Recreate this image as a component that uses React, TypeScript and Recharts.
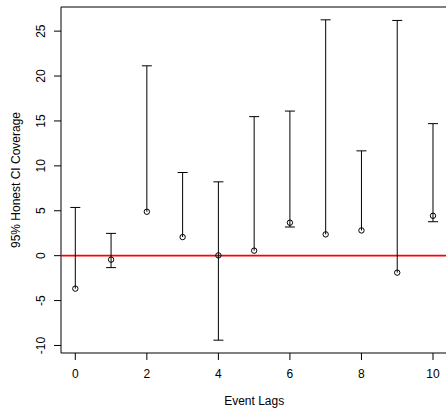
import React from 'react';
import {
  ComposedChart,
  XAxis,
  YAxis,
  Scatter,
  ErrorBar,
  ReferenceLine,
  ReferenceArea,
} from 'recharts';

const lags = [0, 1, 2, 3, 4, 5, 6, 7, 8, 9, 10];
const estimates = [-3.67, -0.44, 4.89, 2.07, 0.03, 0.56, 3.67, 2.37, 2.81, -1.89, 4.44];
const lowerBounds = [-3.67, -1.33, 4.89, 2.07, -9.41, 0.56, 3.19, 2.37, 2.81, -1.89, 3.78];
const upperBounds = [5.37, 2.48, 21.14, 9.26, 8.22, 15.48, 16.1, 26.26, 11.67, 26.19, 14.7];

const xTicks = [0, 2, 4, 6, 8, 10];
const yTicks = [-10, -5, 0, 5, 10, 15, 20, 25];

const FONT = '"Liberation Sans", Arial, Helvetica, sans-serif';

const rows = lags.map((lag, i) => ({
  lag,
  est: estimates[i],
  lower: lowerBounds[i],
  upper: upperBounds[i],
  err: [estimates[i] - lowerBounds[i], upperBounds[i] - estimates[i]],
}));

// R leaves out the cap when an arrow has zero length
const lowerCaps = rows.filter(r => r.lower < r.est);

// R-style axis padding: 4% on each side
const yLo = Math.min(...lowerBounds);
const yHi = Math.max(...upperBounds);
const yPad = (yHi - yLo) * 0.04;
const yDomain: [number, number] = [yLo - yPad, yHi + yPad];
const xPad = (lags[lags.length - 1] - lags[0]) * 0.04;
const xDomain: [number, number] = [lags[0] - xPad, lags[lags.length - 1] + xPad];

const OpenCircle = (props: any) => {
  const { cx, cy } = props;
  if (cx == null || cy == null) return null;
  return <circle cx={cx} cy={cy} r={2.7} fill="none" stroke="#000" strokeWidth={1} />;
};

const Cap = (props: any) => {
  const { cx, cy } = props;
  if (cx == null || cy == null) return null;
  return <line x1={cx - 5} x2={cx + 5} y1={cy} y2={cy} stroke="#000" strokeWidth={1} />;
};

const XTick = ({ x, payload }: any) => (
  <text x={x} y={374} textAnchor="middle" dominantBaseline="central" fontSize={12} fontFamily={FONT} fill="#000">
    {payload.value}
  </text>
);

const YTick = ({ y, payload }: any) => (
  <text
    x={41}
    y={y}
    textAnchor="middle"
    dominantBaseline="central"
    fontSize={12}
    fontFamily={FONT}
    fill="#000"
    transform={`rotate(-90, 41, ${y})`}
  >
    {payload.value}
  </text>
);

export default function App() {
  return (
    <div style={{ position: 'absolute', left: 0, top: 0, width: 446, height: 414, overflow: 'hidden', background: '#fff' }}>
      <ComposedChart width={450} height={414} data={rows} margin={{ top: 7, right: 2.7, bottom: 0, left: 0 }}>
        <XAxis
          dataKey="lag"
          type="number"
          domain={xDomain}
          allowDataOverflow
          ticks={xTicks}
          tick={<XTick />}
          tickSize={7}
          tickLine={{ stroke: '#000' }}
          axisLine={false}
          height={61}
          label={{
            content: ({ viewBox }: any) => (
              <text
                x={viewBox.x + viewBox.width / 2}
                y={401}
                textAnchor="middle"
                dominantBaseline="central"
                fontSize={12}
                fontFamily={FONT}
                fill="#000"
              >
                Event Lags
              </text>
            ),
          }}
        />
        <YAxis
          type="number"
          domain={yDomain}
          allowDataOverflow
          ticks={yTicks}
          tick={<YTick />}
          tickSize={7}
          tickLine={{ stroke: '#000' }}
          axisLine={false}
          width={61}
          label={{
            content: ({ viewBox }: any) => {
              const cy = viewBox.y + viewBox.height / 2;
              return (
                <text
                  x={16}
                  y={cy}
                  textAnchor="middle"
                  dominantBaseline="central"
                  fontSize={12}
                  fontFamily={FONT}
                  fill="#000"
                  transform={`rotate(-90, 16, ${cy})`}
                >
                  95% Honest CI Coverage
                </text>
              );
            },
          }}
        />
        <ReferenceArea
          x1={xDomain[0]}
          x2={xDomain[1]}
          y1={yDomain[0]}
          y2={yDomain[1]}
          fill="none"
          fillOpacity={0}
          stroke="#000"
          strokeWidth={1}
          ifOverflow="visible"
        />
        <ReferenceLine y={0} stroke="#ff0000" strokeWidth={1.8} />
        <Scatter dataKey="est" shape={<OpenCircle />} isAnimationActive={false}>
          <ErrorBar dataKey="err" direction="y" width={0} stroke="#000" strokeWidth={1} isAnimationActive={false} />
        </Scatter>
        <Scatter dataKey="upper" shape={<Cap />} isAnimationActive={false} />
        <Scatter data={lowerCaps} dataKey="lower" shape={<Cap />} isAnimationActive={false} />
      </ComposedChart>
    </div>
  );
}
